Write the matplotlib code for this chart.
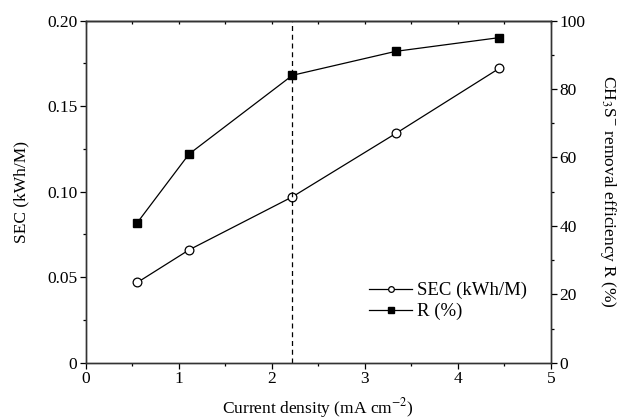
import matplotlib
matplotlib.use('Agg')
import matplotlib.pyplot as plt

plt.rcParams['font.family'] = ['Liberation Serif', 'DejaVu Serif']
plt.rcParams['mathtext.fontset'] = 'stix'

# data
current = [0.556, 1.111, 2.222, 3.333, 4.444]
sec = [0.047, 0.066, 0.097, 0.134, 0.172]
removal = [41, 61, 84, 91, 95]
x_opt = 2.222

fig = plt.figure(figsize=(6.21, 4.19), dpi=100)
ax = fig.add_axes([0.138, 0.134, 0.749, 0.817])
ax2 = ax.twinx()

l1, = ax.plot(current, sec, 'k-', marker='o', mfc='white', mec='black',
              ms=6.3, lw=0.9, mew=0.9)
l2, = ax2.plot(current, removal, 'k-', marker='s', mfc='black', mec='black',
               ms=5.6, lw=0.9)
ax.axvline(x_opt, color='black', ls=(0, (4, 3)), lw=0.9)

ax.set_xlim(0, 5)
ax.set_ylim(0, 0.20)
ax2.set_ylim(0, 100)
ax.set_xticks([0, 1, 2, 3, 4, 5])
ax.set_xticks([0.5, 1.5, 2.5, 3.5, 4.5], minor=True)
ax.set_yticks([0, 0.05, 0.10, 0.15, 0.20])
ax.set_yticklabels(['0', '0.05', '0.10', '0.15', '0.20'])
ax.set_yticks([0.025, 0.075, 0.125, 0.175], minor=True)
ax2.set_yticks([0, 20, 40, 60, 80, 100])
ax2.set_yticks([10, 30, 50, 70, 90], minor=True)

for a in (ax, ax2):
    for s in a.spines.values():
        s.set_linewidth(1.0)
        s.set_color('#333333')
ax.tick_params(which='major', direction='out', length=4, width=0.9, labelsize=12.5,
               right=False, top=False, pad=2)
ax.tick_params(which='minor', direction='out', length=2.5, width=0.9,
               right=False, top=False)
ax2.tick_params(which='major', direction='out', length=4, width=0.9, labelsize=12.5, pad=2)
ax2.tick_params(which='minor', direction='out', length=2.5, width=0.9)

# small inward ticks along the top edge
top = ax.secondary_xaxis('top')
top.set_xticks([0, 1, 2, 3, 4, 5])
top.set_xticks([0.5, 1.5, 2.5, 3.5, 4.5], minor=True)
top.tick_params(which='both', direction='in', length=2, width=0.9, labeltop=False)
top.spines['top'].set_linewidth(1.0)
top.spines['top'].set_color('#333333')

ax.set_xlabel('Current density (mA cm$^{-2}$)', fontsize=12.5, labelpad=6)
ax.set_ylabel('SEC (kWh/M)', fontsize=12.5, labelpad=13)
ax2.set_ylabel('CH$_3$S$^{-}$ removal efficiency R (%)', fontsize=12.5,
               rotation=270, labelpad=24)

ax2.legend([l1, l2], ['SEC (kWh/M)', 'R (%)'], loc='lower right',
           bbox_to_anchor=(0.985, 0.075), frameon=False, fontsize=13.5,
           handlelength=2.3, handletextpad=0.25, labelspacing=0.2,
           markerscale=0.65)

fig.savefig('out.png', dpi=100)
